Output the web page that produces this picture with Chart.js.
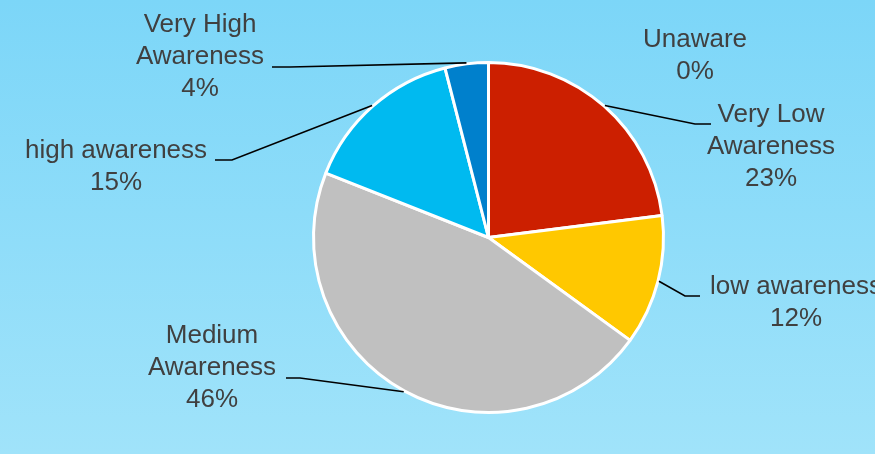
<!DOCTYPE html>
<html>
<head>
<meta charset="utf-8">
<script src="https://cdn.jsdelivr.net/npm/chart.js@4/dist/chart.umd.min.js"></script>
<style>
  html, body { margin: 0; padding: 0; }
  body {
    width: 875px; height: 454px; overflow: hidden;
    background: linear-gradient(to bottom, #7cd6f8, #a0e3fa);
  }
  #wrap { position: relative; width: 875px; height: 454px; }
</style>
</head>
<body>
<div id="wrap"><canvas id="chart"></canvas></div>
<script>
// data (clockwise from 12 o'clock)
const categories = ['Unaware', 'Very Low Awareness', 'low awareness', 'Medium Awareness', 'high awareness', 'Very High Awareness'];
const shares = [0, 23, 12, 46, 15, 4];
const sliceColors = ['#7f7f7f', '#cc1f00', '#ffc800', '#c0c0c0', '#00baf0', '#0080cc'];

// label placement: text block centre, line breaks, elbow of the leader line
const labelLayout = [
  { lines: ['Unaware', '0%'], x: 695, y: 40, leader: null },
  { lines: ['Very Low', 'Awareness', '23%'], x: 771, y: 115, leader: [[695, 124], [711, 124]] },
  { lines: ['low awareness', '12%'], x: 796, y: 287, leader: [[685, 296], [700, 296]] },
  { lines: ['Medium', 'Awareness', '46%'], x: 212, y: 336, leader: [[300, 378], [286, 378]] },
  { lines: ['high awareness', '15%'], x: 116, y: 151, leader: [[232, 160], [215, 160]] },
  { lines: ['Very High', 'Awareness', '4%'], x: 200, y: 25, leader: [[290, 67], [272, 67]] }
];

const calloutLabels = {
  id: 'calloutLabels',
  afterDatasetsDraw(chart) {
    const ctx = chart.ctx;
    const meta = chart.getDatasetMeta(0);
    ctx.save();
    meta.data.forEach((arc, i) => {
      const L = labelLayout[i];
      if (L.leader) {
        const p = arc.getProps(['x', 'y', 'startAngle', 'endAngle', 'outerRadius'], true);
        const mid = (p.startAngle + p.endAngle) / 2;
        const sx = p.x + Math.cos(mid) * (p.outerRadius + 1);
        const sy = p.y + Math.sin(mid) * (p.outerRadius + 1);
        ctx.beginPath();
        ctx.moveTo(sx, sy);
        L.leader.forEach(pt => ctx.lineTo(pt[0], pt[1]));
        ctx.strokeStyle = '#000000';
        ctx.lineWidth = 1.6;
        ctx.stroke();
      }
      ctx.fillStyle = '#404040';
      ctx.font = '26px "Liberation Sans", Arial, sans-serif';
      ctx.textAlign = 'center';
      ctx.textBaseline = 'middle';
      L.lines.forEach((t, k) => ctx.fillText(t, L.x, L.y + k * 32));
    });
    ctx.restore();
  }
};

new Chart(document.getElementById('chart'), {
  type: 'pie',
  data: {
    labels: categories,
    datasets: [{
      data: shares,
      backgroundColor: sliceColors,
      borderColor: '#ffffff',
      borderWidth: 3
    }]
  },
  options: {
    responsive: true,
    maintainAspectRatio: false,
    animation: false,
    layout: { padding: { left: 312, right: 210, top: 61, bottom: 40 } },
    plugins: {
      legend: { display: false },
      tooltip: { enabled: false }
    }
  },
  plugins: [calloutLabels]
});
</script>
</body>
</html>
